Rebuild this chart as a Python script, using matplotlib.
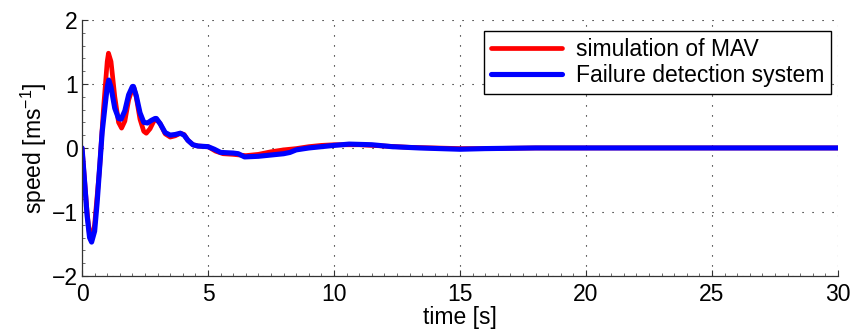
import matplotlib
matplotlib.use("Agg")
import matplotlib.pyplot as plt
from matplotlib.ticker import MultipleLocator

plt.rcParams['font.family'] = ['Liberation Sans', 'DejaVu Sans']
plt.rcParams['mathtext.default'] = 'regular'

# speed response of the MAV model [s, m/s]
t_sim = [0, 0.1, 0.2, 0.3, 0.36, 0.5, 0.7, 0.85, 1.0, 1.05, 1.15, 1.3, 1.45, 1.57, 1.7, 1.85,
         2.0, 2.06, 2.15, 2.3, 2.45, 2.55, 2.7, 2.85, 2.95, 3.1, 3.3, 3.5, 3.7, 3.9, 4.05,
         4.2, 4.4, 4.6, 5.0, 5.3, 5.6, 6.0, 6.5, 7.0, 7.5, 8.0, 8.5, 9.0, 9.5, 10.0, 10.5,
         11.0, 11.5, 12, 13, 14, 15, 16, 18, 20, 22, 25, 28, 30]
v_sim = [0, -0.5, -1.0, -1.36, -1.44, -1.2, -0.3, 0.6, 1.35, 1.48, 1.35, 0.8, 0.4, 0.31, 0.42, 0.75,
         0.93, 0.94, 0.8, 0.45, 0.26, 0.23, 0.3, 0.42, 0.45, 0.38, 0.22, 0.17, 0.19, 0.23, 0.21,
         0.12, 0.05, 0.03, 0.02, -0.05, -0.09, -0.1, -0.12, -0.1, -0.06, -0.03, -0.01, 0.02, 0.04, 0.05,
         0.05, 0.05, 0.04, 0.03, 0.01, 0.0, -0.01, -0.01, 0.0, 0.0, 0.0, 0.0, 0.0, 0.0]

# speed estimated by the failure detection system
t_fds = [0, 0.1, 0.2, 0.3, 0.38, 0.5, 0.6, 0.7, 0.8, 0.92, 1.0, 1.06, 1.15, 1.3, 1.45, 1.55, 1.7, 1.85,
         2.0, 2.04, 2.15, 2.3, 2.45, 2.6, 2.75, 2.9, 2.95, 3.1, 3.3, 3.5, 3.7, 3.9, 4.05,
         4.2, 4.4, 4.6, 5.0, 5.25, 5.5, 6.0, 6.2, 6.45, 7.0, 7.5, 8.0, 8.25, 8.5, 9.0, 9.5,
         10.0, 10.6, 11.5, 12.3, 13.4, 15, 16, 18, 20, 22, 25, 28, 30]
v_fds = [0, -0.52, -1.05, -1.4, -1.47, -1.3, -0.85, -0.3, 0.25, 0.68, 0.95, 1.06, 0.95, 0.62, 0.46, 0.45, 0.58, 0.83,
         0.96, 0.96, 0.82, 0.55, 0.4, 0.39, 0.43, 0.46, 0.46, 0.38, 0.24, 0.2, 0.21, 0.23, 0.2,
         0.12, 0.05, 0.03, 0.02, -0.02, -0.07, -0.08, -0.09, -0.14, -0.13, -0.11, -0.09, -0.07, -0.03, 0.0, 0.02,
         0.04, 0.06, 0.05, 0.02, 0.0, -0.02, -0.01, 0.0, 0.0, 0.0, 0.0, 0.0, 0.0]

x_ticks = [0, 5, 10, 15, 20, 25, 30]
y_ticks = [-2, -1, 0, 1, 2]

fig = plt.figure(figsize=(8.58, 3.33), dpi=100)
ax = fig.add_axes([0.0956, 0.1712, 0.881, 0.769])

ax.plot(t_sim, v_sim, color='#ff0000', lw=3.4, solid_joinstyle='round',
        solid_capstyle='round', label='simulation of MAV')
ax.plot(t_fds, v_fds, color='#0000ff', lw=3.7, solid_joinstyle='round',
        solid_capstyle='round', label='Failure detection system')

ax.set_xlim(0, 30)
ax.set_ylim(-2, 2)
ax.set_xticks(x_ticks)
ax.set_yticks(y_ticks)
ax.xaxis.set_minor_locator(MultipleLocator(0.5))
ax.yaxis.set_minor_locator(MultipleLocator(0.2))
ax.tick_params(which='major', direction='in', length=4, width=0.8, colors='#333333',
               labelcolor='black', labelsize=16.5)
ax.tick_params(which='minor', direction='in', length=2, width=0.6, colors='#555555')
ax.tick_params(axis='x', pad=5)
ax.tick_params(axis='y', pad=3)

for side in ('top', 'right'):
    ax.spines[side].set_visible(False)
for side in ('left', 'bottom'):
    ax.spines[side].set_color('#333333')
    ax.spines[side].set_linewidth(0.9)

ax.grid(True, which='major', color='black', lw=0.8, linestyle=(0, (1, 8)))

ax.set_xlabel('time [s]', fontsize=16.5, labelpad=0)
ax.set_ylabel('speed [ms$^{-1}$]', fontsize=16.5, labelpad=2)

leg = ax.legend(loc='upper right', bbox_to_anchor=(0.991, 0.957), fontsize=16.5,
                fancybox=False, framealpha=1, edgecolor='black', handlelength=3.1,
                labelspacing=0.15, borderpad=0.3, handletextpad=0.6, borderaxespad=0)
leg.get_frame().set_linewidth(1.0)

fig.savefig('out.png', dpi=100)
